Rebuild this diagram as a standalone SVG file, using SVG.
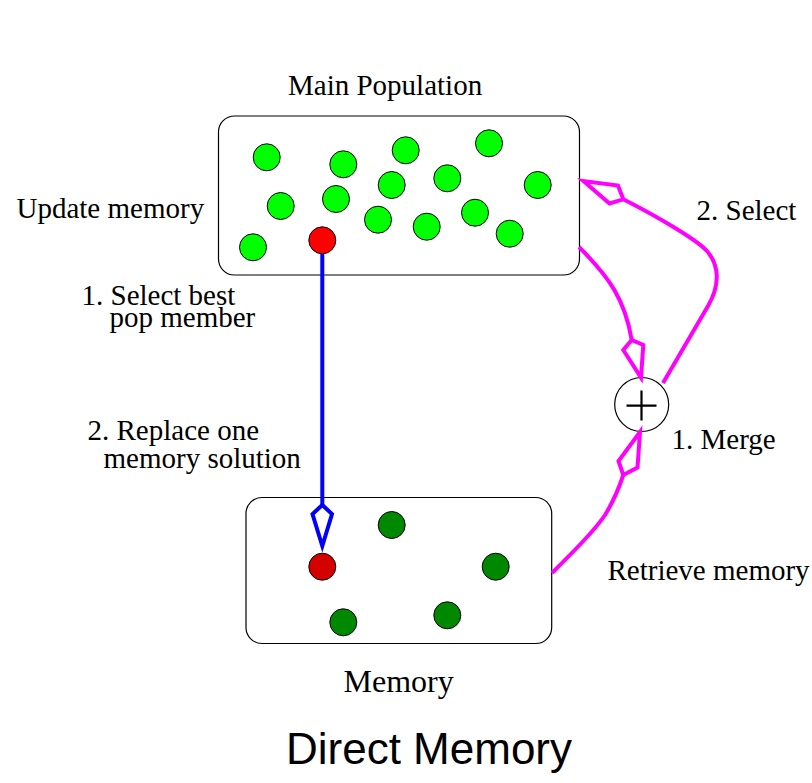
<svg xmlns="http://www.w3.org/2000/svg" width="812" height="783" viewBox="0 0 812 783">
<style>
.box{fill:#fff;stroke:#000;stroke-width:1.2}
.g{fill:#00ff00;stroke:#000;stroke-width:1}
.dg{fill:#008800;stroke:#000;stroke-width:1}
.r{fill:#ff0000;stroke:#000;stroke-width:1}
.dr{fill:#d40000;stroke:#000;stroke-width:1}
.t{font-family:"Liberation Serif","Times New Roman",serif;font-size:29px;fill:#000}
.mag{fill:none;stroke:#ff00ff;stroke-width:4;stroke-linejoin:miter}
.magh{fill:#fff;stroke:#ff00ff;stroke-width:4}
.blu{fill:none;stroke:#0000ff;stroke-width:4}
.bluh{fill:#fff;stroke:#0000ff;stroke-width:4}
</style>
<rect width="812" height="783" fill="#fff"/>
<g id="main-population">
<rect class="box" x="218.5" y="116" width="361" height="159" rx="16"/>
<circle class="g" cx="266.7" cy="157.3" r="13.5"/>
<circle class="g" cx="343.3" cy="164.3" r="13.5"/>
<circle class="g" cx="405.7" cy="150.3" r="13.5"/>
<circle class="g" cx="489" cy="143.3" r="13.5"/>
<circle class="g" cx="280.7" cy="206" r="13.5"/>
<circle class="g" cx="336" cy="199" r="13.5"/>
<circle class="g" cx="391.7" cy="185" r="13.5"/>
<circle class="g" cx="447.3" cy="178.3" r="13.5"/>
<circle class="g" cx="537.7" cy="185" r="13.5"/>
<circle class="g" cx="253" cy="247.3" r="13.5"/>
<circle class="g" cx="378" cy="219.7" r="13.5"/>
<circle class="g" cx="426.7" cy="226.7" r="13.5"/>
<circle class="g" cx="475" cy="212.7" r="13.5"/>
<circle class="g" cx="509.7" cy="233.7" r="13.5"/>
<circle class="r" cx="322.3" cy="240.3" r="13.5"/>
<text class="t" x="288" y="95">Main Population</text>
</g>
<g id="memory">
<rect class="box" x="246" y="497.5" width="305.7" height="146" rx="16"/>
<circle class="dg" cx="391.7" cy="525" r="13.5"/>
<circle class="dg" cx="495.7" cy="566.7" r="13.5"/>
<circle class="dg" cx="343.3" cy="622.3" r="13.5"/>
<circle class="dg" cx="447.3" cy="615.3" r="13.5"/>
<circle class="dr" cx="322.3" cy="566.7" r="13.5"/>
<text class="t" x="343.5" y="692" style="font-size:32px">Memory</text>
</g>
<g id="merge">
<circle cx="641.7" cy="404.5" r="27" fill="#fff" stroke="#000" stroke-width="1.2"/>
<path d="M626.5,405.7H656.5M641.5,390.5V420.5" stroke="#000" stroke-width="2.2" fill="none"/>
</g>
<g id="connectors">
<path class="blu" d="M322.3,254V505"/>
<polygon class="bluh" points="322.3,505 312.5,514 322.3,546 332,514"/>
<path class="mag" d="M579,247 C610,278 625,300 631.7,340"/>
<polygon class="magh" points="631.7,340 623.3,350 641,377.5 643.3,345"/>
<path class="mag" d="M663,383 L708,306 C720,285 720,265 706,250 C695,239 660,218 623.3,199.3"/>
<polygon class="magh" points="623.3,199.3 618,185.5 583.5,181 609.5,203.5"/>
<path class="mag" d="M552,573 C575,550 595,530 605,515 C613,502 619,488 623.3,475"/>
<polygon class="magh" points="623.3,475 618.5,461 640,432 637.5,467.5"/>
</g>
<g id="labels">
<text class="t" x="16.5" y="218">Update memory</text>
<text class="t" x="81.5" y="305">1. Select best</text>
<text class="t" x="109.5" y="327">pop member</text>
<text class="t" x="87.5" y="440">2. Replace one</text>
<text class="t" x="103.5" y="468">memory solution</text>
<text class="t" x="696.5" y="220">2. Select</text>
<text class="t" x="671.5" y="449">1. Merge</text>
<text class="t" x="607.5" y="580">Retrieve memory</text>
<text x="286" y="763.5" style="font-family:'Liberation Sans',Arial,sans-serif;font-size:44px;fill:#000">Direct Memory</text>
</g>
</svg>
